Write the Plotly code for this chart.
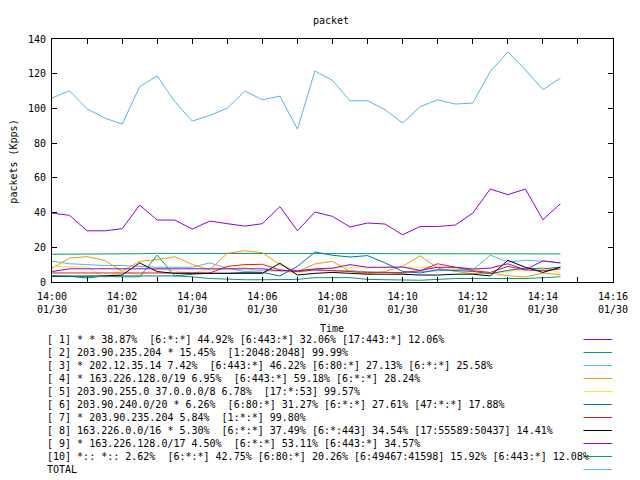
import plotly.graph_objects as go

# ---------------- data ----------------
start_minutes = [i * 0.5 for i in range(30)]  # 14:00:00 .. 14:14:30 every 30 s
times = ["2000-01-30 14:%02d:%02d" % (int(m), int(round((m % 1) * 60))) for m in start_minutes]

series_names = [
    "[ 1] * * 38.87%  [6:*:*] 44.92% [6:443:*] 32.06% [17:443:*] 12.06%",
    "[ 2] 203.90.235.204 * 15.45%  [1:2048:2048] 99.99%",
    "[ 3] * 202.12.35.14 7.42%  [6:443:*] 46.22% [6:80:*] 27.13% [6:*:*] 25.58%",
    "[ 4] * 163.226.128.0/19 6.95%  [6:443:*] 59.18% [6:*:*] 28.24%",
    "[ 5] 203.90.255.0 37.0.0.0/8 6.78%  [17:*:53] 99.57%",
    "[ 6] 203.90.240.0/20 * 6.26%  [6:80:*] 31.27% [6:*:*] 27.61% [47:*:*] 17.88%",
    "[ 7] * 203.90.235.204 5.84%  [1:*:*] 99.80%",
    "[ 8] 163.226.0.0/16 * 5.30%  [6:*:*] 37.49% [6:*:443] 34.54% [17:55589:50437] 14.41%",
    "[ 9] * 163.226.128.0/17 4.50%  [6:*:*] 53.11% [6:443:*] 34.57%",
    "[10] *:: *:: 2.62%  [6:*:*] 42.75% [6:80:*] 20.26% [6:49467:41598] 15.92% [6:443:*] 12.08%",
    "TOTAL",
]

series_colors = ["#9400d3", "#009e73", "#56b4e9", "#e69f00", "#f0e442",
                 "#0072b2", "#e51e10", "#000000", "#9400d3", "#009e73", "#56b4e9"]

s1 = [39.7, 38.4, 29.5, 29.5, 30.7, 44.3, 35.7, 35.7, 30.5, 35.1,
      33.6, 32.2, 33.6, 43.4, 29.5, 40.3, 37.8, 31.7, 34.0, 33.4,
      27.2, 32.0, 32.0, 32.8, 39.7, 53.6, 50.3, 53.6, 35.9, 45.1]
s2 = [16.0, 16.0, 16.0, 16.0, 16.0, 16.3, 16.5, 16.5, 16.5, 16.5,
      16.5, 16.5, 16.5, 16.5, 16.2, 16.2, 16.5, 16.5, 16.5, 16.5,
      16.5, 16.2, 16.2, 16.5, 16.5, 16.5, 16.5, 16.5, 16.5, 16.2]
s3 = [12.0, 10.5, 10.0, 9.5, 9.5, 9.0, 8.5, 8.5, 8.5, 11.0,
      8.0, 6.0, 6.5, 6.5, 6.0, 7.0, 6.5, 6.5, 6.0, 5.5,
      5.0, 6.0, 6.5, 7.0, 7.0, 15.5, 11.5, 12.5, 12.0, 11.0]
s4 = [8.0, 13.8, 14.6, 12.5, 6.1, 11.9, 12.9, 14.6, 10.1, 7.0,
      16.5, 18.0, 16.9, 10.0, 6.0, 10.4, 11.9, 6.1, 4.8, 6.1,
      9.0, 15.1, 8.0, 6.1, 4.8, 5.2, 3.6, 2.9, 5.2, 4.2]
s5 = [9.0, 8.6, 8.6, 2.7, 6.5, 4.0, 7.5, 6.5, 5.0, 7.5,
      7.5, 8.5, 5.5, 6.5, 5.0, 7.5, 8.0, 8.5, 8.0, 8.5,
      8.5, 8.5, 8.5, 8.0, 8.0, 5.0, 6.0, 7.0, 8.6, 5.0]
s6 = [3.6, 3.3, 2.3, 3.5, 3.5, 3.5, 3.3, 3.5, 4.5, 5.0,
      5.0, 5.5, 5.5, 3.5, 9.0, 17.3, 15.4, 14.4, 15.2, 11.0,
      6.1, 5.2, 7.1, 6.7, 6.1, 4.8, 6.7, 8.0, 7.5, 8.6]
s7 = [5.2, 5.2, 5.2, 5.2, 5.2, 5.2, 5.2, 5.2, 5.2, 5.2,
      9.0, 10.0, 10.2, 7.0, 6.0, 7.0, 6.5, 6.0, 5.5, 5.5,
      5.5, 6.5, 10.5, 8.5, 6.5, 5.5, 9.0, 7.0, 6.5, 7.5]
s8 = [3.2, 3.2, 3.2, 3.5, 4.0, 11.0, 6.0, 5.0, 5.0, 5.0,
      5.0, 5.0, 5.0, 10.8, 4.0, 5.0, 5.5, 5.0, 4.5, 4.5,
      4.5, 4.0, 4.0, 4.5, 4.5, 3.5, 12.5, 8.5, 5.5, 8.5]
s9 = [6.0, 7.6, 7.6, 7.6, 7.6, 7.6, 7.6, 7.6, 7.6, 7.6,
      7.6, 7.6, 7.6, 6.5, 6.5, 7.5, 8.0, 10.0, 8.5, 8.5,
      8.6, 6.7, 8.5, 8.5, 7.5, 8.0, 10.5, 7.0, 12.2, 11.0]
s10 = [3.5, 3.3, 3.2, 3.0, 3.0, 3.0, 15.5, 3.5, 3.0, 2.0,
       1.5, 1.3, 1.3, 1.5, 1.5, 2.5, 2.5, 2.5, 1.5, 1.2,
       1.0, 1.0, 1.5, 2.0, 2.0, 2.0, 1.8, 2.0, 2.5, 3.0]
total = [106.0, 110.2, 99.7, 94.5, 91.0, 112.5, 118.7, 104.0, 92.7, 96.0,
         100.2, 110.0, 105.0, 107.1, 88.1, 121.6, 116.1, 104.4, 104.4, 99.3,
         91.6, 101.0, 105.0, 102.5, 103.1, 121.3, 132.5, 122.3, 110.8, 117.5]

all_series = [s1, s2, s3, s4, s5, s6, s7, s8, s9, s10, total]

x_tick_minutes = list(range(0, 17))
x_tick_vals = ["2000-01-30 14:%02d:00" % m for m in x_tick_minutes]
x_tick_text = [("14:%02d<br>01/30" % m) if m % 2 == 0 else "" for m in x_tick_minutes]
y_tick_vals = [0, 20, 40, 60, 80, 100, 120, 140]

# ---------------- figure ----------------
FONT = "DejaVu Sans Mono"
fig = go.Figure()
for vals, col in zip(all_series, series_colors):
    fig.add_trace(go.Scatter(x=times, y=vals, mode="lines",
                             line=dict(color=col, width=1), hoverinfo="skip"))

# page body has an 8px margin: figure is drawn at (8, 8) in the window
OFF = 8
W, H = 640 - OFF, 480 - OFF
L, T = 52 - OFF, 39 - OFF
R = W - (622 - OFF)
B = H - (282 - OFF)
pw, ph = W - L - R, H - T - B

def px(xp):  # window pixel x -> paper
    return (xp - OFF - L) / pw

def py(yp):  # window pixel y -> paper
    return (H - B - (yp - OFF)) / ph

fig.update_layout(
    width=W, height=H,
    margin=dict(l=L, r=R, t=T, b=B, pad=0),
    plot_bgcolor="white", paper_bgcolor="white",
    showlegend=False,
    font=dict(family=FONT, size=10, color="black"),
)
fig.update_xaxes(
    range=["2000-01-30 14:00:00", "2000-01-30 14:16:00"],
    tickvals=x_tick_vals, ticktext=x_tick_text,
    ticks="inside", ticklen=5, tickcolor="black",
    showline=True, linecolor="black", linewidth=1, mirror="allticks",
    showgrid=False, zeroline=False, ticklabelstandoff=5,
    tickfont=dict(family=FONT, size=10, color="black"),
)
fig.update_yaxes(
    range=[0, 140], tickvals=y_tick_vals,
    ticks="inside", ticklen=5, tickcolor="black",
    showline=True, linecolor="black", linewidth=1, mirror="allticks",
    showgrid=False, zeroline=False, ticklabelstandoff=3,
    tickfont=dict(family=FONT, size=10, color="black"),
)

ann = []
ann.append(dict(text="packet", x=px(335), y=py(20), xref="paper", yref="paper",
                showarrow=False, xanchor="center", yanchor="middle", borderpad=0))
ann.append(dict(text="Time", x=px(336), y=py(328), xref="paper", yref="paper",
                showarrow=False, xanchor="center", yanchor="middle", borderpad=0))
ann.append(dict(text="packets (Kpps)", x=px(12), y=py(162), xref="paper", yref="paper",
                showarrow=False, xanchor="center", yanchor="middle", textangle=-90, borderpad=0))

shapes = []
for i, (name, col) in enumerate(zip(series_names, series_colors)):
    ypix = 339.5 + 13 * i
    ann.append(dict(text=name.replace(" ", "\u00a0"), x=px(46), y=py(ypix),
                    xref="paper", yref="paper", showarrow=False,
                    xanchor="left", yanchor="middle", borderpad=0))
    shapes.append(dict(type="line", xref="paper", yref="paper",
                       x0=px(592), x1=px(621), y0=py(ypix), y1=py(ypix),
                       line=dict(color=col, width=1)))

fig.update_layout(annotations=ann, shapes=shapes)
fig.write_html("out.html")
